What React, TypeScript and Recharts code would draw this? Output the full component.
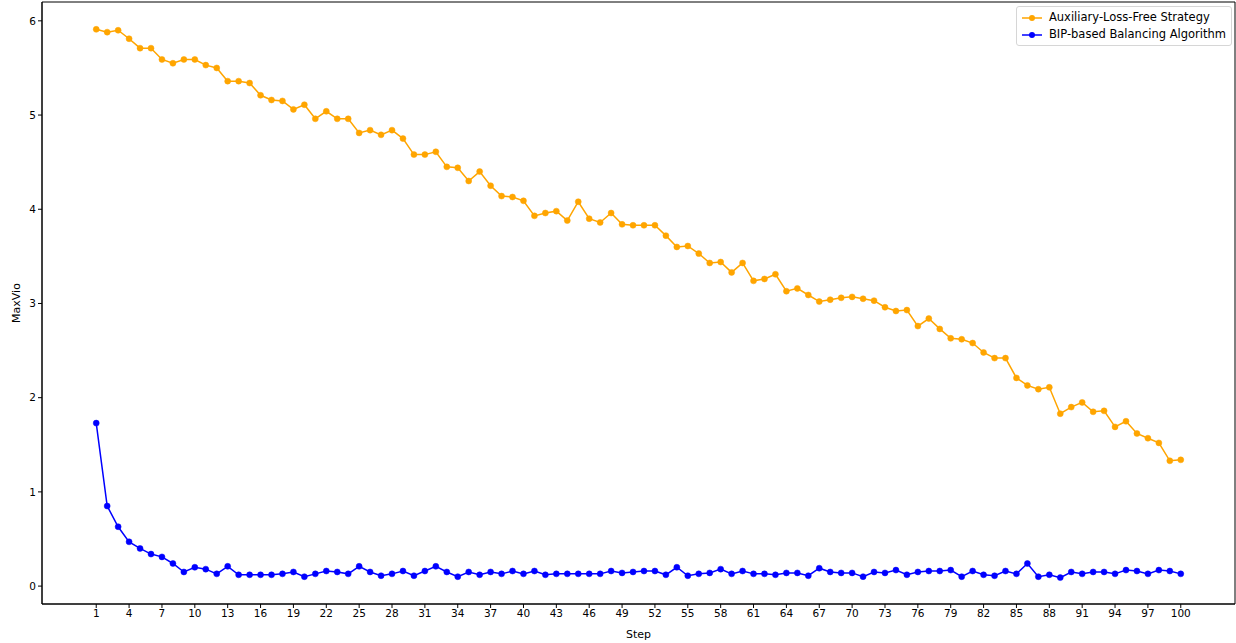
import React from "react";
import {
  LineChart,
  Line,
  XAxis,
  YAxis,
  ReferenceArea,
} from "recharts";

const steps: number[] = Array.from({ length: 100 }, (_, i) => i + 1);

const auxLossFree: number[] = [
  5.91, 5.88, 5.90, 5.81, 5.71, 5.71, 5.59, 5.55, 5.59, 5.59,
  5.53, 5.50, 5.36, 5.36, 5.34, 5.21, 5.16, 5.15, 5.06, 5.11,
  4.96, 5.04, 4.96, 4.96, 4.81, 4.84, 4.79, 4.84, 4.75, 4.58,
  4.58, 4.61, 4.45, 4.44, 4.30, 4.40, 4.25, 4.14, 4.13, 4.09,
  3.93, 3.96, 3.98, 3.88, 4.08, 3.90, 3.86, 3.96, 3.84, 3.83,
  3.83, 3.83, 3.72, 3.60, 3.61, 3.53, 3.43, 3.44, 3.33, 3.43,
  3.24, 3.26, 3.31, 3.13, 3.16, 3.09, 3.02, 3.04, 3.06, 3.07,
  3.05, 3.03, 2.96, 2.92, 2.93, 2.76, 2.84, 2.73, 2.63, 2.62,
  2.58, 2.48, 2.42, 2.42, 2.21, 2.13, 2.09, 2.11, 1.83, 1.90,
  1.95, 1.85, 1.86, 1.69, 1.75, 1.62, 1.57, 1.52, 1.33, 1.34,
];

const bipBalancing: number[] = [
  1.73, 0.85, 0.63, 0.47, 0.40, 0.34, 0.31, 0.24, 0.15, 0.20,
  0.18, 0.13, 0.21, 0.12, 0.12, 0.12, 0.12, 0.13, 0.15, 0.10,
  0.13, 0.16, 0.15, 0.13, 0.21, 0.15, 0.11, 0.13, 0.16, 0.11,
  0.16, 0.21, 0.15, 0.10, 0.15, 0.12, 0.15, 0.13, 0.16, 0.13,
  0.16, 0.12, 0.13, 0.13, 0.13, 0.13, 0.13, 0.16, 0.14, 0.15,
  0.16, 0.16, 0.12, 0.20, 0.11, 0.13, 0.14, 0.18, 0.13, 0.16,
  0.13, 0.13, 0.12, 0.14, 0.14, 0.11, 0.19, 0.15, 0.14, 0.14,
  0.10, 0.15, 0.14, 0.17, 0.12, 0.15, 0.16, 0.16, 0.17, 0.10,
  0.16, 0.12, 0.11, 0.16, 0.13, 0.24, 0.10, 0.12, 0.09, 0.15,
  0.13, 0.15, 0.15, 0.13, 0.17, 0.16, 0.13, 0.17, 0.16, 0.13,
];

const xTicks: number[] = [
  1, 4, 7, 10, 13, 16, 19, 22, 25, 28, 31, 34, 37, 40, 43, 46, 49,
  52, 55, 58, 61, 64, 67, 70, 73, 76, 79, 82, 85, 88, 91, 94, 97, 100,
];
const yTicks: number[] = [0, 1, 2, 3, 4, 5, 6];

const xDomain: [number, number] = [-3.95, 104.95];
const yDomain: [number, number] = [-0.19, 6.2];

const seriesInfo = [
  { key: "aux", name: "Auxiliary-Loss-Free Strategy", color: "#FFA500" },
  { key: "bip", name: "BIP-based Balancing Algorithm", color: "#0000FF" },
];

const data = steps.map((s, i) => ({
  step: s,
  aux: auxLossFree[i],
  bip: bipBalancing[i],
}));

const FONT = "'DejaVu Sans', sans-serif";
const tickStyle = { fill: "#000", fontSize: 10.5, fontFamily: FONT };

// legend drawn as plain html so it doesn't shrink the plot area
function LegendBox() {
  return (
    <div
      style={{
        position: "absolute",
        top: 6,
        right: 4,
        background: "#fff",
        border: "1px solid #d6d6d6",
        borderRadius: 3,
        padding: "2px 5px 2px 5px",
        fontFamily: FONT,
        fontSize: 11.5,
        color: "#000",
        lineHeight: "17px",
      }}
    >
      {seriesInfo.map((s) => (
        <div key={s.key} style={{ display: "flex", alignItems: "center" }}>
          <svg width={20} height={10} style={{ marginRight: 7 }}>
            <line x1={0} y1={5} x2={20} y2={5} stroke={s.color} strokeWidth={1.5} />
            <circle cx={10} cy={5} r={3} fill={s.color} />
          </svg>
          <span>{s.name}</span>
        </div>
      ))}
    </div>
  );
}

export default function App() {
  return (
    <div
      style={{
        position: "absolute",
        left: 0,
        top: 0,
        width: 1236,
        height: 643,
        background: "#fff",
      }}
    >
      <LineChart
        width={1236}
        height={643}
        data={data}
        margin={{ top: 2, right: 1, bottom: 0, left: 0 }}
      >
        <XAxis
          dataKey="step"
          type="number"
          domain={xDomain}
          ticks={xTicks}
          allowDataOverflow
          height={39}
          tickSize={4}
          tick={tickStyle}
          stroke="#000"
          tickLine={{ stroke: "#000" }}
          label={{
            value: "Step",
            position: "insideBottom",
            offset: 5,
            style: { fill: "#000", fontSize: 11, fontFamily: FONT },
          }}
        />
        <YAxis
          type="number"
          domain={yDomain}
          ticks={yTicks}
          allowDataOverflow
          width={42}
          tickSize={4}
          tick={tickStyle}
          stroke="#000"
          tickLine={{ stroke: "#000" }}
          label={({ viewBox }: any) => (
            <text
              x={16}
              y={viewBox.y + viewBox.height / 2}
              transform={`rotate(-90, 16, ${viewBox.y + viewBox.height / 2})`}
              textAnchor="middle"
              dominantBaseline="central"
              style={{ fill: "#000", fontSize: 11, fontFamily: FONT }}
            >
              MaxVio
            </text>
          )}
        />
        <ReferenceArea
          x1={xDomain[0]}
          x2={xDomain[1]}
          y1={yDomain[0]}
          y2={yDomain[1]}
          fill="none"
          stroke="#000"
          strokeWidth={1}
          ifOverflow="extendDomain"
        />
        {seriesInfo.map((s) => (
          <Line
            key={s.key}
            dataKey={s.key}
            name={s.name}
            type="linear"
            stroke={s.color}
            strokeWidth={1.5}
            dot={{ r: 3, fill: s.color, stroke: s.color, strokeWidth: 0.5 }}
            activeDot={false}
            isAnimationActive={false}
          />
        ))}
      </LineChart>
      <LegendBox />
    </div>
  );
}
